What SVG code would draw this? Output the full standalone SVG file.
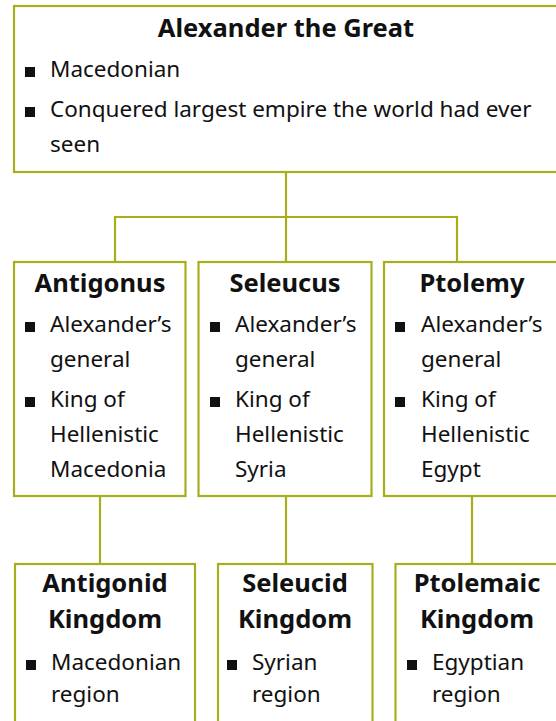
<svg xmlns="http://www.w3.org/2000/svg" width="556" height="721" viewBox="0 0 556 721">
<style>
.box{fill:#fff;stroke:#A7AE1B;stroke-width:2.2}
.con{fill:none;stroke:#A7AE1B;stroke-width:2.2}
.t{font-family:"Noto Sans","Open Sans",sans-serif;font-weight:bold;font-size:25.5px;fill:#111;text-anchor:middle}
.b{font-family:"Noto Sans","Open Sans",sans-serif;font-size:22.5px;fill:#111}
.sq{fill:#111}
</style>
<rect width="556" height="721" fill="#fff"/>
<g id="connectors">
<path class="con" d="M286 172V217M115 262V217H457V262M286 217V262"/>
<path class="con" d="M100 496V564M286 496V564M472 496V564"/>
</g>
<g id="alexander">
<rect class="box" x="14" y="6" width="546" height="166"/>
<text class="t" x="286" y="37">Alexander the Great</text>
<rect class="sq" x="25" y="67" width="10" height="10"/>
<text class="b" x="50" y="77">Macedonian</text>
<rect class="sq" x="25" y="107" width="10" height="10"/>
<text class="b" x="50" y="117">Conquered largest empire the world had ever</text>
<text class="b" x="50" y="152">seen</text>
</g>
<g id="antigonus">
<rect class="box" x="14" y="262" width="171.5" height="234"/>
<text class="t" x="100" y="292">Antigonus</text>
<rect class="sq" x="25" y="322" width="10" height="10"/>
<text class="b" x="50" y="332">Alexander’s</text>
<text class="b" x="50" y="367">general</text>
<rect class="sq" x="25" y="397" width="10" height="10"/>
<text class="b" x="50" y="407">King of</text>
<text class="b" x="50" y="442">Hellenistic</text>
<text class="b" x="50" y="477">Macedonia</text>
</g>
<g id="seleucus">
<rect class="box" x="198.5" y="262" width="173" height="234"/>
<text class="t" x="285" y="292">Seleucus</text>
<rect class="sq" x="210" y="322" width="10" height="10"/>
<text class="b" x="235" y="332">Alexander’s</text>
<text class="b" x="235" y="367">general</text>
<rect class="sq" x="210" y="397" width="10" height="10"/>
<text class="b" x="235" y="407">King of</text>
<text class="b" x="235" y="442">Hellenistic</text>
<text class="b" x="235" y="477">Syria</text>
</g>
<g id="ptolemy">
<rect class="box" x="384" y="262" width="176" height="234"/>
<text class="t" x="472" y="292">Ptolemy</text>
<rect class="sq" x="395" y="322" width="10" height="10"/>
<text class="b" x="421" y="332">Alexander’s</text>
<text class="b" x="421" y="367">general</text>
<rect class="sq" x="395" y="397" width="10" height="10"/>
<text class="b" x="421" y="407">King of</text>
<text class="b" x="421" y="442">Hellenistic</text>
<text class="b" x="421" y="477">Egypt</text>
</g>
<g id="antigonid">
<rect class="box" x="15" y="564" width="180" height="170"/>
<text class="t" x="105" y="592">Antigonid</text>
<text class="t" x="105" y="628">Kingdom</text>
<rect class="sq" x="26" y="660" width="10" height="10"/>
<text class="b" x="51" y="670">Macedonian</text>
<text class="b" x="51" y="702">region</text>
</g>
<g id="seleucid">
<rect class="box" x="218" y="564" width="154.5" height="170"/>
<text class="t" x="295" y="592">Seleucid</text>
<text class="t" x="295" y="628">Kingdom</text>
<rect class="sq" x="227" y="660" width="10" height="10"/>
<text class="b" x="252" y="670">Syrian</text>
<text class="b" x="252" y="702">region</text>
</g>
<g id="ptolemaic">
<rect class="box" x="395.5" y="564" width="165" height="170"/>
<text class="t" x="477" y="592">Ptolemaic</text>
<text class="t" x="477" y="628">Kingdom</text>
<rect class="sq" x="407" y="660" width="10" height="10"/>
<text class="b" x="432" y="670">Egyptian</text>
<text class="b" x="432" y="702">region</text>
</g>
</svg>
